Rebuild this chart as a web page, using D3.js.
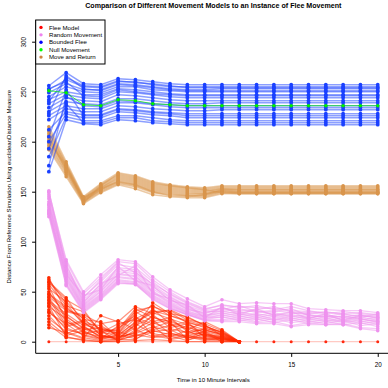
<!DOCTYPE html>
<html><head><meta charset="utf-8">
<script src="https://cdn.jsdelivr.net/npm/d3@7"></script>
<style>body{margin:0;background:#fff} svg{display:block} text{font-family:"Liberation Sans",Arial,sans-serif;fill:#000}</style>
</head><body><svg id="c" width="388" height="388"></svg>
<script>
const chartTitle = "Comparison of Different Movement Models to an Instance of Flee Movement";
const xTitle = "Time in 10 Minute Intervals";
const yTitle = "Distance From Reference Simulation Using euclideanDistance Measure";
const times = [1,2,3,4,5,6,7,8,9,10,11,12,13,14,15,16,17,18,19,20];
const xTicks = [5,10,15,20];
const yTicks = [0,50,100,150,200,250,300];
const legendLabels = ["Flee Model","Random Movement","Bounded Flee","Null Movement","Move and Return"];
const legendColors = ["#ff0000","#ee82ee","#0000ff","#00ff00","#cd853f"];

// Flee Model runs (t = 1..12)
const fleeRuns = [
  [64,30,26,12,8,28,36,26,20,14,8,0],
  [60,44,18,16,6,20,30,31,22,18,11,0],
  [57,36,30,10,12,33,24,20,14,10,6,0],
  [53,40,22,20,4,14,39,28,25,16,9,0],
  [50,25,14,8,14,24,18,22,12,20,12,0],
  [47,33,24,6,3,10,27,14,18,8,5,0],
  [44,20,12,14,9,30,20,24,10,12,7,0],
  [41,28,16,4,5,8,15,10,16,6,4,0],
  [38,15,20,7,2,17,33,18,8,13,10,0],
  [35,23,10,3,10,5,12,16,20,4,3,0],
  [32,12,8,11,1,12,22,8,6,10,2,0],
  [29,18,6,2,7,3,10,12,4,7,5,0],
  [26,8,15,5,3,18,8,5,11,3,1,0],
  [23,10,4,1,2,2,14,20,2,5,3,0],
  [20,6,11,3,16,26,6,3,7,2,4,0],
  [17,4,2,0,1,7,4,6,1,9,0,0],
  [14,9,3,26,20,35,28,32,24,17,6,0],
  [59,42,32,9,18,22,16,2,5,1,2,0],
  [36,5,1,0,0,1,2,1,0,0,0,0],
  [45,31,27,18,21,12,5,9,3,11,8,0],
  [55,21,9,5,6,16,25,17,13,6,3,0],
  [62,38,17,12,11,31,35,29,19,15,10,0],
  [48,35,19,9,7,19,29,23,17,12,7,0],
  [39,26,13,6,4,9,19,13,9,7,4,0],
  [30,14,7,3,2,6,11,7,5,3,2,0],
  [42,17,21,13,8,23,31,26,21,16,9,0]
];
const fleeReference = [0,0,0,0,0,0,0,0,0,0,0,0,0,0,0,0,0,0,0,0];

// Random Movement runs
const randomRuns = [
  [150,80,48,64,80,78,62,50,40,33,36,35,34,33,31,30,29,28,29,27],
  [147,76,45,60,77,74,60,47,38,31,33,31,32,35,30,28,30,27,26,25],
  [145,74,42,57,74,72,57,45,36,30,30,33,29,30,33,26,25,28,24,28],
  [143,71,40,55,72,70,55,44,35,28,34,29,31,27,28,29,27,24,27,23],
  [140,70,38,53,70,68,53,42,34,27,28,30,26,29,25,27,23,26,22,24],
  [138,68,37,51,68,66,51,40,33,26,31,27,28,25,27,24,26,22,25,21],
  [136,66,36,50,67,65,50,39,31,25,26,28,24,27,23,25,21,24,20,22],
  [134,65,35,48,65,63,49,38,30,25,29,25,27,22,26,22,24,20,23,19],
  [132,63,34,47,64,62,47,37,29,24,24,26,22,25,21,23,20,22,18,20],
  [131,62,33,46,62,60,46,36,29,23,27,23,25,21,24,20,22,19,21,17],
  [129,60,32,45,61,59,45,35,28,22,22,24,20,23,19,21,18,21,16,18],
  [128,58,31,44,60,58,44,34,27,22,25,21,23,19,22,18,20,17,19,15],
  [127,57,30,43,59,57,43,33,27,21,21,22,19,20,16,19,17,18,14,13],
  [149,82,50,67,82,80,65,52,43,35,42,38,39,38,38,33,32,31,31,29],
  [125,56,29,42,58,58,42,33,27,21,20,20,18,18,15,17,17,17,13,11],
  [151,72,44,62,79,69,58,48,39,32,37,34,36,32,35,31,28,30,28,26],
  [137,78,39,58,66,76,48,43,32,29,32,36,30,31,29,27,25,25,23,20],
  [130,67,46,52,75,61,56,41,37,24,35,27,33,26,30,23,28,21,26,24]
];

// Bounded Flee runs
const boundedRuns = [
  [256,269,258,257,263,262,260,258,257,257,257,257,257,257,257,257,257,257,257,257],
  [252,262,255,254,260,260,257,255,255,255,255,255,255,255,255,255,255,255,255,255],
  [249,258,252,252,258,257,255,253,252,252,253,253,253,253,253,253,253,253,253,253],
  [245,255,250,249,255,255,252,251,250,250,250,250,250,250,250,250,250,250,250,250],
  [242,250,247,247,253,252,250,248,247,247,247,247,247,247,247,247,247,247,247,247],
  [238,247,244,243,250,249,247,245,244,244,244,244,244,244,244,244,244,244,244,244],
  [234,244,241,240,247,246,244,242,241,241,241,241,241,241,241,241,241,241,241,241],
  [230,240,238,237,243,243,241,239,238,238,239,239,239,239,239,239,239,239,239,239],
  [226,236,233,233,239,239,237,235,234,234,234,234,234,234,234,234,234,234,234,234],
  [222,233,230,230,236,235,233,232,231,231,232,232,232,232,232,232,232,232,232,232],
  [212,230,227,227,233,232,230,229,228,228,228,228,228,228,228,228,228,228,228,228],
  [200,228,224,224,230,229,227,226,224,224,224,224,224,224,224,224,224,224,224,224],
  [185,225,221,221,226,226,224,222,221,221,221,221,221,221,221,221,221,221,221,221],
  [170,222,218,217,222,221,219,218,217,217,217,217,217,217,217,217,217,217,217,217],
  [253,260,246,245,252,250,248,247,246,246,246,246,246,246,246,246,246,246,246,246],
  [228,266,253,251,257,256,254,252,251,251,251,251,251,251,251,251,251,251,251,251],
  [176,245,236,235,241,240,238,237,236,236,236,236,236,236,236,236,236,236,236,236],
  [205,252,226,226,232,231,229,228,226,226,226,226,226,226,226,226,226,226,226,226],
  [240,264,256,255,261,259,258,256,254,254,254,254,254,254,254,254,254,254,254,254],
  [193,238,219,219,224,224,221,220,219,219,219,219,219,219,219,219,219,219,219,219]
];

// Null Movement
const nullRun = [251,249,237,236,242,241,238,237,236,236,236,236,236,236,236,236,236,236,236,236];

// Move and Return runs
const returnRuns = [
  [215,180,145,158,169,166,160,157,155,154,156,156,156,156,156,156,156,156,156,156],
  [212,178,144,157,167,164,158,156,154,153,155,155,155,155,155,155,155,155,155,155],
  [210,177,143,156,166,163,157,155,153,152,154,154,154,154,154,154,154,154,154,154],
  [208,176,143,155,165,162,156,154,152,151,153,153,153,153,153,153,153,153,153,153],
  [206,175,142,154,164,161,155,153,151,150,153,152,152,152,152,152,152,152,152,152],
  [204,174,142,154,163,160,154,152,150,149,152,151,151,151,151,151,151,151,151,151],
  [202,173,141,153,162,159,153,151,149,148,151,150,150,150,150,150,150,150,150,150],
  [200,172,141,152,161,158,152,150,148,148,151,150,150,150,150,150,150,150,150,150],
  [198,170,140,152,160,157,151,149,147,147,150,149,149,149,149,149,149,149,149,149],
  [196,169,140,151,159,156,150,148,146,146,150,149,149,149,149,149,149,149,149,149],
  [194,167,139,150,158,155,149,147,146,145,149,148,148,148,148,148,148,148,148,148],
  [192,165,138,149,157,153,147,145,144,144,148,148,148,148,148,148,148,148,148,148],
  [205,171,144,153,160,157,150,146,145,147,152,152,152,152,152,152,152,152,152,152],
  [200,176,139,156,168,165,159,156,154,152,149,149,149,149,149,149,149,149,149,149]
];

const svg = d3.select("#c");
const x = d3.scaleLinear().domain([0.24, 20.76]).range([35.7, 390.9]);
const y = d3.scaleLinear().domain([-11.6, 321.7]).range([353.3, 20]);
const line = d3.line().x((d, i) => x(times[i])).y(d => y(d));

function drawRuns(runs, color, lineOpacity, lw, r) {
  const g = svg.append("g");
  runs.forEach(run => {
    g.append("path").datum(run).attr("d", line)
      .attr("fill", "none").attr("stroke", color)
      .attr("stroke-opacity", lineOpacity).attr("stroke-width", lw);
    g.append("g").selectAll("circle").data(run).join("circle")
      .attr("cx", (d, i) => x(times[i])).attr("cy", d => y(d))
      .attr("r", r).attr("fill", color);
  });
}

drawRuns([fleeReference], "#ff2a10", 0.25, 1.2, 1.5);
drawRuns(fleeRuns, "#ff2a00", 0.5, 1.2, 1.8);
drawRuns(randomRuns, "#ee92ee", 0.5, 1.3, 1.8);
drawRuns(returnRuns, "#d9954c", 0.5, 1.5, 1.8);
drawRuns(boundedRuns, "#1a40ff", 0.5, 1.4, 1.9);
drawRuns([nullRun], "#00ee00", 0.7, 1, 1.7);

// box (bty = "l")
svg.append("line").attr("x1", 35.7).attr("x2", 35.7).attr("y1", 20).attr("y2", 353.3).attr("stroke", "#000");
svg.append("line").attr("x1", 35.7).attr("x2", 390.9).attr("y1", 353.3).attr("y2", 353.3).attr("stroke", "#000");

// axes
const yAxis = svg.append("g").attr("transform", "translate(35.7,0)")
  .call(d3.axisLeft(y).tickValues(yTicks).tickSize(3.6).tickFormat(d3.format("d")));
yAxis.select(".domain").remove();
yAxis.selectAll("text").attr("x", null).attr("dy", null)
  .attr("transform", "translate(-9.6,0) rotate(-90)")
  .attr("text-anchor", "middle").style("font-size", "6.3px").style("font-family", "Liberation Sans, Arial, sans-serif");

const xAxis = svg.append("g").attr("transform", "translate(0,353.3)")
  .call(d3.axisBottom(x).tickValues(xTicks).tickSize(3.6).tickFormat(d3.format("d")));
xAxis.select(".domain").remove();
xAxis.selectAll("text").attr("y", 14.2).attr("dy", null)
  .style("font-size", "6.3px").style("font-family", "Liberation Sans, Arial, sans-serif");

// titles
svg.append("text").attr("x", 213.3).attr("y", 8.3).attr("text-anchor", "middle")
  .style("font-size", "7.1px").style("font-weight", "bold").text(chartTitle);
svg.append("text").attr("x", 213.3).attr("y", 381.5).attr("text-anchor", "middle")
  .style("font-size", "6.1px").text(xTitle);
svg.append("text").attr("transform", "translate(11.2,186.7) rotate(-90)").attr("text-anchor", "middle")
  .style("font-size", "6.1px").text(yTitle);

// legend
const lg = svg.append("g");
lg.append("rect").attr("x", 35.7).attr("y", 20).attr("width", 69.3).attr("height", 44)
  .attr("fill", "#fff").attr("stroke", "#000").attr("stroke-width", 1);
const ly = d3.scalePoint().domain(legendLabels).range([27.4, 57.1]);
lg.selectAll("circle.k").data(legendLabels).join("circle").attr("class", "k")
  .attr("cx", 41).attr("cy", d => ly(d)).attr("r", 1.7)
  .attr("fill", (d, i) => legendColors[i]);
lg.selectAll("text.k").data(legendLabels).join("text").attr("class", "k")
  .attr("x", 49).attr("y", d => ly(d) + 2.1).style("font-size", "6.1px").text(d => d);
</script></body></html>
